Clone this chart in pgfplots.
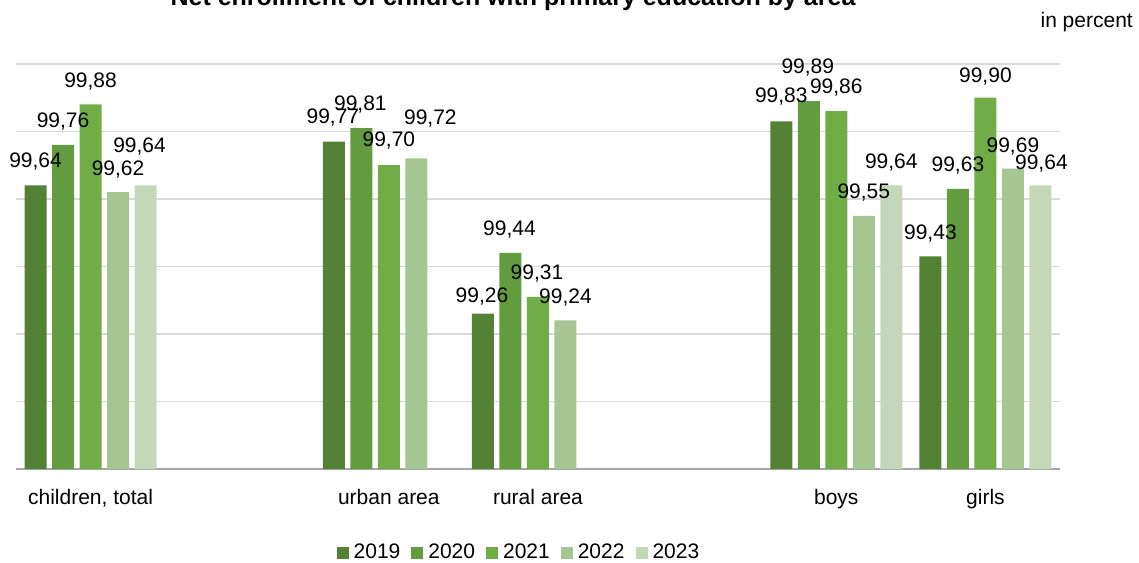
\documentclass[border=0pt]{standalone}
\usepackage{fontspec}
\setmainfont{Liberation Sans}
\usepackage{pgfplots}
\usepackage{pgfplotstable}
\pgfplotsset{compat=1.18}

\definecolor{c19}{HTML}{548235}
\definecolor{c20}{HTML}{639B3F}
\definecolor{c21}{HTML}{70AD47}
\definecolor{c22}{HTML}{A5C591}
\definecolor{c23}{HTML}{C4D8B9}
\definecolor{gridgray}{HTML}{D9D9D9}
\definecolor{axisgray}{HTML}{A6A6A6}

\pgfplotsset{
  sqlegend/.style={legend image code/.code={\fill[##1] (0pt,-6pt) rectangle (12pt,6pt);}},
  lbl/.style={
    nodes near coords,
    visualization depends on={\thisrow{dx}\as\lblx},
    visualization depends on={\thisrow{dy}\as\lbly},
    every node near coord/.append style={anchor=base, inner sep=0pt, text=black,
      xshift=\lblx pt, yshift=\lbly pt - 7.5pt}},
}

% x: 0 children total, 2 urban, 3 rural, 5 boys, 6 girls
% dx, dy: label offset from bar top (px)
\pgfplotstableread{
x y dx dy
0 99.64 0 25
2 99.77 -1 26
3 99.26 -1 19
5 99.83 0 26
6 99.43 0 24
}\dA
\pgfplotstableread{
x y dx dy
0 99.76 0 25
2 99.81 -1 25
3 99.44 -1 25
5 99.89 -1 35
6 99.63 0 25
}\dB
\pgfplotstableread{
x y dx dy
0 99.88 0 24
2 99.70 0 26
3 99.31 -1 25
5 99.86 0 25
6 99.90 0 23
}\dC
\pgfplotstableread{
x y dx dy
0 99.62 0 24
2 99.72 14 41
3 99.24 0 24
5 99.55 0 25
6 99.69 0 24
}\dD
\pgfplotstableread{
x y dx dy
0 99.64 -6 40
5 99.64 0 24
6 99.64 1 23
}\dE

\begin{document}
\fontsize{21}{25}\selectfont
\begin{tikzpicture}[x=1pt,y=1pt]
\useasboundingbox (0,0) rectangle (1139,562);
\begin{axis}[
  at={(16pt,93pt)}, anchor=south west,
  scale only axis, width=1044pt, height=506.25pt,
  xmin=-0.5, xmax=6.5, ymin=98.8, ymax=100.3,
  ybar=5.5pt, bar width=22pt,
  axis lines*=left,
  x axis line style={axisgray, line width=1.5pt},
  y axis line style={draw=none},
  major tick length=0pt,
  xtick={0,2,3,5,6},
  xticklabels={{children, total},{urban area},{rural area},{boys},{girls}},
  xticklabel style={anchor=base, yshift=-35pt, inner sep=0pt},
  ytick={99,99.2,99.4,99.6,99.8,100},
  yticklabels={},
  ymajorgrids, grid style={gridgray, line width=1.3pt},
  /pgf/number format/fixed, /pgf/number format/fixed zerofill,
  /pgf/number format/precision=2, /pgf/number format/use comma,
  /pgf/number format/assume math mode=true,
  legend columns=-1,
  legend style={at={(0.4808,-0.1659)}, anchor=center, draw=none, fill=none,
    inner sep=0pt, column sep=0pt, nodes={inner sep=0pt},
    /tikz/every odd column/.append style={column sep=5pt},
    /tikz/every even column/.append style={column sep=11pt}},
]
\addplot[fill=c19, draw=none, sqlegend, lbl] table[x=x,y=y] {\dA};
\addplot[fill=c20, draw=none, sqlegend, lbl] table[x=x,y=y] {\dB};
\addplot[fill=c21, draw=none, sqlegend, lbl] table[x=x,y=y] {\dC};
\addplot[fill=c22, draw=none, sqlegend, lbl] table[x=x,y=y] {\dD};
\addplot[fill=c23, draw=none, sqlegend, lbl] table[x=x,y=y] {\dE};
\legend{2019,2020,2021,2022,2023}
\end{axis}
\node[anchor=base, inner sep=0pt, font=\fontsize{25}{30}\selectfont\bfseries] at (513,556)
  {Net enrollment of children with primary education by area};
\node[anchor=base east, inner sep=0pt] at (1133,534) {in percent};
\end{tikzpicture}
\end{document}
